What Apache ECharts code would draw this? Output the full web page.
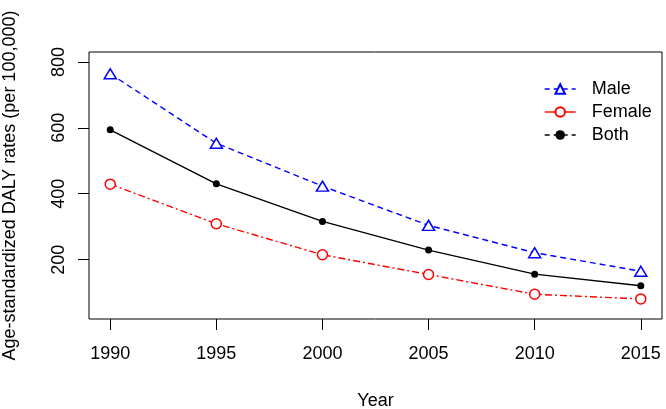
<!DOCTYPE html>
<html>
<head>
<meta charset="utf-8">
<script src="https://cdn.jsdelivr.net/npm/echarts@6/dist/echarts.min.js"></script>
<style>html,body{margin:0;padding:0;background:#fff;}#c{width:666px;height:409px;}</style>
</head>
<body>
<div id="c"></div>
<script>
var years = [1990, 1995, 2000, 2005, 2010, 2015];
var male = [764, 553, 423, 304, 221, 165];
var female = [429, 309, 215, 155, 95, 81];
var both = [594, 430, 316, 229, 156, 121];
var xTicks = [1990, 1995, 2000, 2005, 2010, 2015];
var yTicks = [200, 400, 600, 800];

function pairs(vals) { return years.map(function (y, i) { return [y, vals[i]]; }); }

var font = 'Liberation Sans, Arial, sans-serif';
var fs = 18;
var chart = echarts.init(document.getElementById('c'), null, {renderer: 'canvas'});
chart.setOption({
  animation: false,
  backgroundColor: '#fff',
  grid: {left: 89, top: 52, right: 4, bottom: 90, show: true, borderColor: '#000', borderWidth: 1,
         backgroundColor: 'transparent', containLabel: false, outerBoundsMode: 'none'},
  xAxis: {
    type: 'value', min: 1989, max: 2016,
    name: 'Year', nameLocation: 'middle', nameGap: 73,
    nameTextStyle: {fontFamily: font, fontSize: fs, color: '#000'},
    axisLine: {show: false},
    splitLine: {show: false},
    axisTick: {show: true, length: 11, customValues: xTicks, lineStyle: {color: '#000', width: 1}},
    axisLabel: {customValues: xTicks, margin: 26, fontFamily: font, fontSize: fs, color: '#000',
                formatter: function (v) { return String(v); }}
  },
  yAxis: {
    type: 'value', min: 20, max: 830,
    name: 'Age-standardized DALY rates (per 100,000)', nameLocation: 'middle', nameGap: 70, nameRotate: 90,
    nameTextStyle: {fontFamily: font, fontSize: fs, color: '#000'},
    axisLine: {show: false},
    splitLine: {show: false},
    axisTick: {show: true, length: 11, customValues: yTicks, lineStyle: {color: '#000', width: 1}},
    axisLabel: {customValues: yTicks, rotate: 90, margin: 21, fontFamily: font, fontSize: fs, color: '#000'}
  },
  legend: {
    left: 539, top: 75, orient: 'vertical',
    itemWidth: 31, itemHeight: 12, itemGap: 5,
    textStyle: {fontFamily: font, fontSize: fs, color: '#000', padding: [0, 0, 0, 11]},
    data: [
      {name: 'Male', lineStyle: {type: [5, 4], width: 1.4}},
      {name: 'Female', lineStyle: {type: 'solid', width: 1.4}},
      {name: 'Both', lineStyle: {type: [5, 4], width: 1.4}}
    ]
  },
  series: [
    {
      name: 'Male', type: 'line', data: pairs(male),
      symbol: 'triangle', symbolSize: [12, 10], showAllSymbol: true,
      itemStyle: {color: '#fff', borderColor: '#0000ff', borderWidth: 1.5},
      lineStyle: {color: '#0000ff', width: 1.4, type: [6, 4]}
    },
    {
      name: 'Female', type: 'line', data: pairs(female),
      symbol: 'circle', symbolSize: 10,
      itemStyle: {color: '#fff', borderColor: '#ff0000', borderWidth: 1.5},
      lineStyle: {color: '#ff0000', width: 1.4, type: [7, 3, 2, 3]}
    },
    {
      name: 'Both', type: 'line', data: pairs(both),
      symbol: 'circle', symbolSize: 7,
      itemStyle: {color: '#000', borderColor: '#000', borderWidth: 0},
      lineStyle: {color: '#000', width: 1.4, type: 'solid'}
    }
  ]
});
</script>
</body>
</html>
